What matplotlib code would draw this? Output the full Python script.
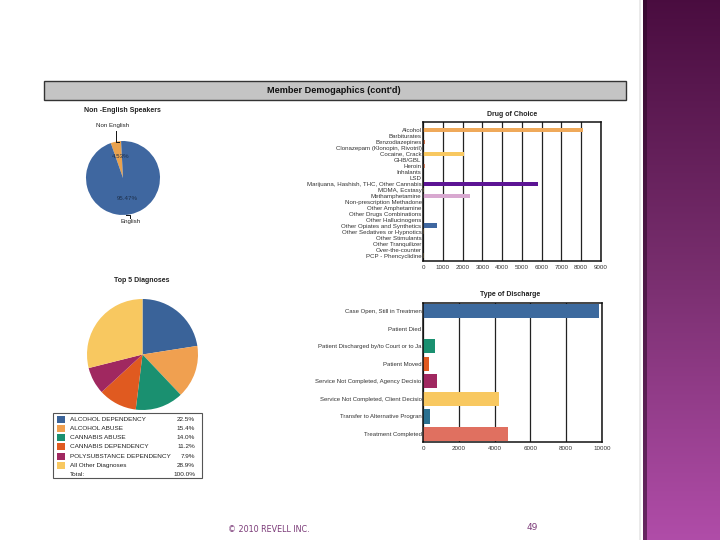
"""Member demographics slide: two pies, two horizontal bar charts."""

import matplotlib

matplotlib.use("Agg")  # noqa: E402
import numpy as np  # noqa: E402
from matplotlib import pyplot as plt  # noqa: E402
from matplotlib.patches import Rectangle  # noqa: E402

plt.rcParams["font.family"] = ["Liberation Sans", "DejaVu Sans"]

_W, _H = 720, 540
_AXIS_COLOR = "#111111"
_TEXT_COLOR = "#222222"
_FOOTER_COLOR = "#7b3a78"

# --- data -------------------------------------------------------------------
language_labels = ["Non English", "English"]
language_shares = [4.53, 95.47]
language_colors = ["#e9a24e", "#3f67a0"]

drug_labels = [
    "Alcohol",
    "Barbiturates",
    "Benzodiazepines",
    "Clonazepam (Klonopin, Rivotril)",
    "Cocaine, Crack",
    "GHB/GBL",
    "Heroin",
    "Inhalants",
    "LSD",
    "Marijuana, Hashish, THC, Other Cannabis",
    "MDMA, Ecstasy",
    "Methamphetamine",
    "Non-prescription Methadone",
    "Other Amphetamine",
    "Other Drugs Combinations",
    "Other Hallucinogens",
    "Other Opiates and Synthetics",
    "Other Sedatives or Hypnotics",
    "Other Stimulants",
    "Other Tranquilizer",
    "Over-the-counter",
    "PCP - Phencyclidine",
]
drug_counts = [8070, 5, 100, 5, 2080, 5, 90, 25, 10, 5830, 30, 2360,
               15, 20, 25, 15, 730, 30, 20, 10, 15, 35]
drug_colors = [
    "#efa95a", "#3f67a0", "#c8704a", "#3f67a0", "#f8c860", "#3f67a0",
    "#d08060", "#3a9060", "#f8c860", "#5c1494", "#f8d080", "#d8a8d0",
    "#f0c070", "#f0c070", "#f0c070", "#f0c070", "#3f67a0", "#f0c070",
    "#3090a0", "#f0c070", "#f0c070", "#f0d070",
]
drug_ticks = [0, 1000, 2000, 3000, 4000, 5000, 6000, 7000, 8000, 9000]

diagnosis_labels = [
    "ALCOHOL DEPENDENCY",
    "ALCOHOL ABUSE",
    "CANNABIS ABUSE",
    "CANNABIS DEPENDENCY",
    "POLYSUBSTANCE DEPENDENCY",
    "All Other Diagnoses",
]
diagnosis_shares = [22.5, 15.4, 14.0, 11.2, 7.9, 28.9]
diagnosis_colors = ["#3a6399", "#f0a050", "#1a9070", "#e05a20", "#a02860", "#f8c860"]
diagnosis_total = "100.0%"

discharge_labels = [
    "Case Open, Still in Treatmen",
    "Patient Died",
    "Patient Discharged by/to Court or to Ja",
    "Patient Moved",
    "Service Not Completed, Agency Decisio",
    "Service Not Completed, Client Decisio",
    "Transfer to Alternative Progran",
    "Treatment Completed",
]
discharge_counts = [9850, 20, 650, 320, 780, 4260, 390, 4750]
discharge_colors = ["#3d6a9e", "#f0a050", "#1a9070", "#e05a20",
                    "#a02860", "#f8c860", "#2a7090", "#e07060"]
discharge_ticks = [0, 2000, 4000, 6000, 8000, 10000]


def _px_axes(fig, x0, y0, x1, y1, **kwargs):
    """Add axes placed in pixel coordinates (origin top-left)."""
    return fig.add_axes([x0 / _W, 1 - y1 / _H, (x1 - x0) / _W, (y1 - y0) / _H], **kwargs)


def _build_background(ax):
    ax.set_xlim(0, _W)
    ax.set_ylim(_H, 0)
    ax.axis("off")

    # header bar
    ax.add_patch(Rectangle((44, 81), 582, 19, facecolor="#c4c4c4",
                           edgecolor="#333333", linewidth=1.0))
    ax.text(334, 90.5, "Member Demogaphics (cont'd)", fontsize=6.6, fontweight="bold",
            ha="center", va="center", color="#111111")

    # thin page shadow next to the side bar
    ax.plot([640, 640], [0, _H], color="#e6e6e6", linewidth=1.2)

    # titles
    for x, y, title in [(122, 111, "Non -English Speakers"), (142, 281, "Top 5 Diagnoses"),
                        (512, 114, "Drug of Choice"), (510, 295, "Type of Discharge")]:
        ax.text(x, y, title, fontsize=5.0, fontweight="bold", ha="center",
                va="center", color=_TEXT_COLOR)

    # footer
    ax.text(228, 529, "\u00a9 2010 REVELL INC.", fontsize=5.8, family="DejaVu Sans",
            color=_FOOTER_COLOR, ha="left", va="center")
    ax.text(532, 528, "49", fontsize=6.5, family="DejaVu Sans",
            color=_FOOTER_COLOR, ha="center", va="center")


def _build_language_pie(fig, overlay):
    ax = _px_axes(fig, 86, 141, 160, 215)
    ax.pie(language_shares, colors=language_colors, startangle=93,
           counterclock=True, wedgeprops={"linewidth": 0})
    ax.set_xlim(-1, 1)
    ax.set_ylim(-1, 1)

    overlay.text(113, 126, language_labels[0], fontsize=4.4, ha="center",
                 va="center", color=_TEXT_COLOR)
    overlay.plot([116, 116, 119], [131, 142, 142], color="#111111", linewidth=0.7)
    overlay.text(121, 157, f"{language_shares[0]:.2f}%", fontsize=4.4,
                 ha="center", va="center", color="#1d2f4a")
    overlay.text(127, 199, f"{language_shares[1]:.2f}%", fontsize=4.4,
                 ha="center", va="center", color="#1d2f4a")
    overlay.plot([126, 130, 130], [215, 215, 218], color="#111111", linewidth=0.7)
    overlay.text(131, 222, language_labels[1], fontsize=4.4, ha="center",
                 va="center", color=_TEXT_COLOR)


def _build_diagnosis_pie(fig, overlay):
    ax = _px_axes(fig, 87, 299, 198, 410)
    ax.pie(diagnosis_shares, colors=diagnosis_colors, startangle=90,
           counterclock=False, wedgeprops={"linewidth": 0})
    ax.set_xlim(-1, 1)
    ax.set_ylim(-1, 1)

    overlay.add_patch(Rectangle((53, 413), 149, 65, facecolor="white",
                                edgecolor="#555555", linewidth=0.8))
    row_step = 9.15
    for idx, (label, share, color) in enumerate(
            zip(diagnosis_labels, diagnosis_shares, diagnosis_colors)):
        y = 419.5 + idx * row_step
        overlay.add_patch(Rectangle((57, y - 3.5), 8, 7, facecolor=color, linewidth=0))
        overlay.text(70, y, label, fontsize=4.6, ha="left", va="center", color=_TEXT_COLOR)
        overlay.text(195, y, f"{share:.1f}%", fontsize=4.6, ha="right",
                     va="center", color=_TEXT_COLOR)
    y_total = 419.5 + len(diagnosis_labels) * row_step
    overlay.text(70, y_total, "Total:", fontsize=4.6, ha="left", va="center", color=_TEXT_COLOR)
    overlay.text(195, y_total, diagnosis_total, fontsize=4.6, ha="right",
                 va="center", color=_TEXT_COLOR)


def _style_bar_axes(ax, ticks, label_size):
    ax.set_facecolor("white")
    ax.set_xticks(ticks)
    ax.set_xticklabels([str(t) for t in ticks], fontsize=4.5, color="#333333")
    ax.tick_params(axis="x", length=0, pad=3)
    ax.tick_params(axis="y", length=0, pad=1, labelsize=label_size, labelcolor="#333333")
    ax.grid(True, axis="x", color="#222222", linewidth=0.9)
    ax.set_axisbelow(True)
    for spine in ax.spines.values():
        spine.set_color(_AXIS_COLOR)
        spine.set_linewidth(1.1)


def _build_drug_chart(fig):
    ax = _px_axes(fig, 423, 122, 601, 261)
    positions = np.arange(len(drug_labels))
    ax.barh(positions, drug_counts, height=0.72, color=drug_colors, linewidth=0)
    ax.set_yticks(positions)
    ax.set_yticklabels(drug_labels)
    ax.set_xlim(0, drug_ticks[-1])
    ax.set_ylim(len(drug_labels) - 0.1, -1.3)
    _style_bar_axes(ax, drug_ticks, 4.4)


def _build_discharge_chart(fig):
    ax = _px_axes(fig, 423, 303, 602, 442)
    positions = np.arange(len(discharge_labels))
    ax.barh(positions, discharge_counts, height=0.81, color=discharge_colors, linewidth=0)
    ax.set_yticks(positions)
    ax.set_yticklabels(discharge_labels)
    ax.set_xlim(0, discharge_ticks[-1])
    ax.set_ylim(len(discharge_labels) - 0.55, -0.45)
    _style_bar_axes(ax, discharge_ticks, 4.3)


def _build_sidebar(fig):
    ax = _px_axes(fig, 643, 0, 720, 540)
    stops = np.array([0.0, 0.5, 1.0])
    top, mid, bottom = (0.29, 0.05, 0.25), (0.47, 0.18, 0.43), (0.69, 0.30, 0.66)
    rows = np.linspace(0, 1, 256)
    gradient = np.stack(
        [np.interp(rows, stops, [top[c], mid[c], bottom[c]]) for c in range(3)], axis=-1
    )[:, None, :]
    ax.imshow(gradient, aspect="auto", extent=(0, 77, 540, 0))
    ax.axvspan(0, 3.5, color="#2a0626", alpha=0.55, linewidth=0)
    ax.set_xlim(0, 77)
    ax.set_ylim(540, 0)
    ax.axis("off")


def main():
    fig = plt.figure(figsize=(_W / 100, _H / 100), dpi=100, facecolor="white")
    # overlay holds the header, labels and legend; kept above the pies
    overlay = fig.add_axes([0, 0, 1, 1], zorder=5)
    overlay.patch.set_alpha(0)
    _build_background(overlay)
    _build_language_pie(fig, overlay)
    _build_diagnosis_pie(fig, overlay)
    _build_drug_chart(fig)
    _build_discharge_chart(fig)
    _build_sidebar(fig)
    fig.savefig("out.png", dpi=100, facecolor="white")
    plt.close(fig)


if __name__ == "__main__":
    main()
